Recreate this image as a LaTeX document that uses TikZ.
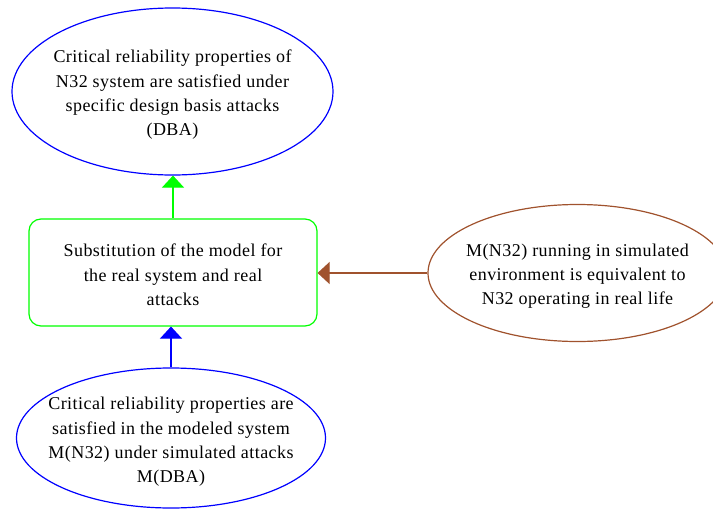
\documentclass[tikz,border=0pt]{standalone}
\usepackage{fontspec}
\setmainfont{Liberation Serif}[LetterSpace=2.5]
\usetikzlibrary{shapes.geometric,arrows.meta}
\definecolor{gvgreen}{RGB}{0,255,0}
\definecolor{gvblue}{RGB}{0,0,255}
\definecolor{gvbrown}{RGB}{160,82,45}
\tikzset{
  txt/.style={align=center,font=\fontsize{18}{24.3}\selectfont,text=black,inner sep=0pt},
  ell/.style={ellipse,draw,line width=1.2pt,inner sep=0pt},
  arr/.style={line width=1.2pt,-{Triangle[width=22pt,length=12pt]}},
}
\begin{document}
\begin{tikzpicture}[x=1pt,y=-1pt]
\useasboundingbox (0,0) rectangle (713,509);
\node[ell,draw=gvblue,minimum width=321pt,minimum height=167pt] (top) at (172.5,91.5) {};
\node[txt] (topt) at (172.5,95)
  {Critical reliability properties of\\N32 system are satisfied under\\specific design basis attacks\\(DBA)};
\node[draw=gvgreen,line width=1.2pt,rounded corners=12pt,minimum width=288pt,minimum height=107pt,inner sep=0pt] (sub) at (173,272.5) {};
\node[txt] (subt) at (173,275)
  {Substitution of the model for\\the real system and real\\attacks};
\node[ell,draw=gvbrown,minimum width=299pt,minimum height=137pt] (env) at (577.5,273) {};
\node[txt] (envt) at (577.5,276)
  {M(N32) running in simulated\\environment is equivalent to\\N32 operating in real life};
\node[ell,draw=gvblue,minimum width=309pt,minimum height=140pt] (bot) at (171,438) {};
\node[txt] (bott) at (171,442)
  {Critical reliability properties are\\satisfied in the modeled system\\M(N32) under simulated attacks\\M(DBA)};
\draw[arr,draw=gvgreen,fill=gvgreen] (sub.north) -- (sub.north |- top.south);
\draw[arr,draw=gvblue,fill=gvblue] (bot.north) -- (bot.north |- sub.south);
\draw[arr,draw=gvbrown,fill=gvbrown] (env.west) -- (env.west -| sub.east);
\end{tikzpicture}
\end{document}
